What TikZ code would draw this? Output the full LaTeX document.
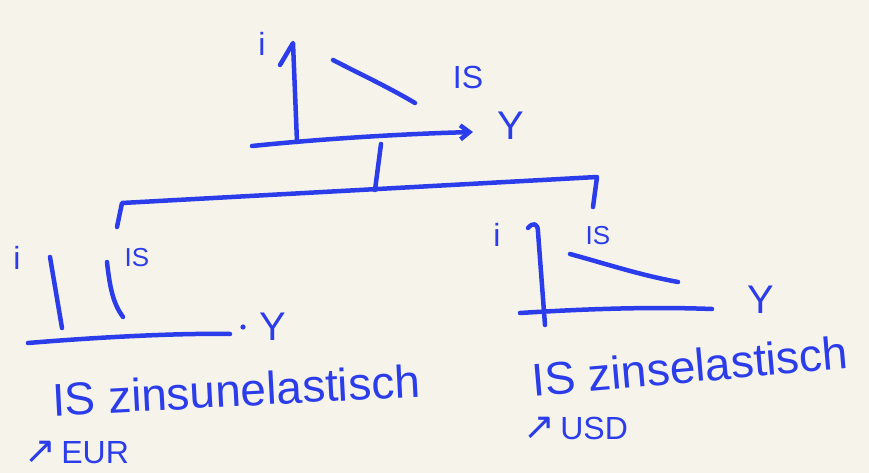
\documentclass[tikz,border=0pt]{standalone}
\usepackage{fontspec}
\setmainfont{Liberation Sans}
\newfontfamily\arrfont{DejaVu Sans}
\usetikzlibrary{arrows.meta}
\definecolor{ink}{HTML}{2B3DEB}
\definecolor{paper}{HTML}{F6F3EA}
\begin{document}
\begin{tikzpicture}[x=1pt,y=-1pt,
  pen/.style={draw=ink,line width=4.5pt,line cap=round,line join=round},
  lbl/.style={text=ink,inner sep=0pt},
  big/.style={lbl,font=\fontsize{40}{40}\selectfont},
  mid/.style={lbl,font=\fontsize{32}{32}\selectfont},
  small/.style={lbl,font=\fontsize{26}{26}\selectfont},
  note/.style={lbl,font=\fontsize{46}{46}\selectfont},
  note2/.style={lbl,font=\fontsize{32}{32}\selectfont,anchor=west}]
\fill[paper] (0,0) rectangle (869,473);
\useasboundingbox (0,0) rectangle (869,473);

% top graph
\coordinate (tA) at (293,43);
\coordinate (tO) at (297,142);
\coordinate (tX0) at (252,146);
\coordinate (tX1) at (473,132);
\draw[pen] (280,65) -- (tA) -- (tO);
\draw[pen,-{Straight Barb[length=9pt,width=14pt]}] (tX0) .. controls (320,139) and (400,134) .. (tX1);
\draw[pen] (333,60) .. controls (360,74) and (390,88) .. (415,103);
\node[mid] (ti) at (262,44) {i};
\node[mid] (tis) at (468,77) {IS};
\node[big] (ty) at (511,126) {Y};

% tree
\coordinate (root) at (381,144);
\coordinate (j) at (375,190);
\coordinate (lt) at (122,203);
\coordinate (rt) at (597,177);
\coordinate (lc) at (117,227);
\coordinate (rc) at (593,207);
\draw[pen] (root) -- (j);
\draw[pen] (lc) -- (lt) -- (rt) -- (rc);

% left graph
\draw[pen] (50,257) -- (62,328);
\draw[pen] (107,262) .. controls (110,290) and (114,305) .. (123,317);
\draw[pen] (28,343) .. controls (100,337) and (180,333) .. (230,334);
\fill[ink] (243,327) circle (2.6);
\node[mid] (li) at (17,258) {i};
\node[small] (lis) at (137,258) {IS};
\node[big] (ly) at (273,327) {Y};

% right graph
\draw[pen] (528,228) .. controls (533,222) and (538,223) .. (538,232) -- (545,325);
\draw[pen] (520,313) .. controls (600,308) and (660,307) .. (712,309);
\draw[pen] (570,254) .. controls (610,265) and (640,275) .. (678,282);
\node[mid] (ri) at (497,235) {i};
\node[small] (ris) at (598,236) {IS};
\node[big] (ry) at (761,300) {Y};

% notes
\node[note,rotate=3] (ln) at (236,390) {IS zinsunelastisch};
\node[note2] (le) at (24,452) {{\arrfont\fontsize{38}{38}\selectfont ↗}\,EUR};
\node[note,rotate=5] (rn) at (690,366) {IS zinselastisch};
\node[note2] (ru) at (523,428) {{\arrfont\fontsize{38}{38}\selectfont ↗}\,USD};
\end{tikzpicture}
\end{document}
